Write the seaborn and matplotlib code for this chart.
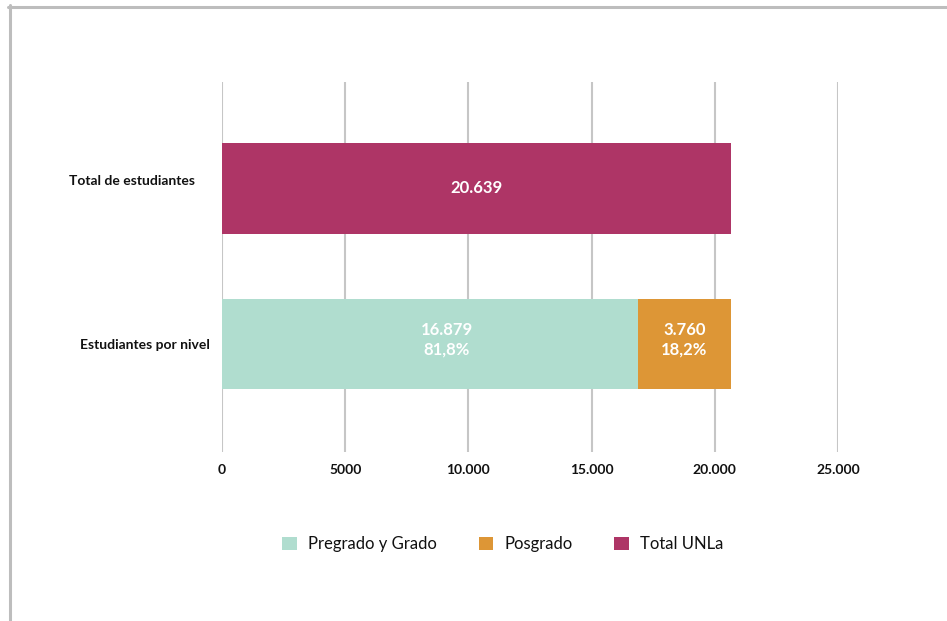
import matplotlib
matplotlib.use("Agg")
import matplotlib.pyplot as plt
import matplotlib.transforms as mtransforms
from matplotlib.lines import Line2D
from matplotlib.patches import Patch
import seaborn as sns

# data
categories = ["Total de estudiantes", "Estudiantes por nivel"]
series = ["Pregrado y Grado", "Posgrado", "Total UNLa"]
pregrado = 16879
posgrado = 3760
total_unla = 20639
pct_pregrado = "81,8%"
pct_posgrado = "18,2%"
xticks = [0, 5000, 10000, 15000, 20000, 25000]
xtick_labels = ["0", "5000", "10.000", "15.000", "20.000", "25.000"]

colors = {"Pregrado y Grado": "#B0DDCF", "Posgrado": "#DD9636", "Total UNLa": "#AE3566"}


def fmt(v):
    return f"{v:,}".replace(",", ".")


sns.set_theme(style="white")
plt.rcParams["font.family"] = ["Lato", "DejaVu Sans"]

fig = plt.figure(figsize=(9.47, 6.21), dpi=100)
ax = fig.add_axes([222 / 947, 1 - 452 / 621, 616 / 947, 370 / 621])

bw = 0.58
bar_kw = dict(order=categories, orient="h", width=bw, saturation=1, ax=ax, linewidth=0)
# total bar
sns.barplot(x=[total_unla], y=[categories[0]], color=colors["Total UNLa"], zorder=3, **bar_kw)
# stacked bar: cumulative posgrado first, pregrado drawn on top
sns.barplot(x=[pregrado + posgrado], y=[categories[1]], color=colors["Posgrado"], zorder=3, **bar_kw)
sns.barplot(x=[pregrado], y=[categories[1]], color=colors["Pregrado y Grado"], zorder=4, **bar_kw)

ax.set_xlim(0, 25000)
ax.set_ylim(1.695, -0.685)
ax.set_xticks(xticks)
ax.set_xticklabels(xtick_labels, fontsize=10, fontweight="bold", color="#111111")
ax.set_yticks(range(len(categories)))
ax.set_yticklabels(categories, fontsize=10, fontweight="bold", color="#111111")
ax.set_xlabel("")
ax.set_ylabel("")
ax.tick_params(axis="x", length=0, pad=9)
ax.tick_params(axis="y", length=0, pad=9)

# first label sits a little left and up in the reference
lab0 = ax.get_yticklabels()[0]
lab0.set_transform(lab0.get_transform() + mtransforms.ScaledTranslation(-0.15, 0.08, fig.dpi_scale_trans))

ax.grid(axis="x", color="#C6C6C6", linewidth=1.5, zorder=0)
ax.grid(axis="y", visible=False)
for s in ax.spines.values():
    s.set_visible(False)

# value labels
lbl = dict(color="white", fontsize=12, fontweight="bold", ha="center", va="center",
           linespacing=1.3, zorder=5)
ax.text(total_unla / 2, 0, fmt(total_unla), **lbl)
ax.annotate(f"{fmt(pregrado)}\n{pct_pregrado}", (pregrado / 2, 1), xytext=(12, 3),
            textcoords="offset points", **lbl)
ax.annotate(f"{fmt(posgrado)}\n{pct_posgrado}", (pregrado + posgrado / 2, 1), xytext=(0, 3),
            textcoords="offset points", **lbl)

handles = [Patch(facecolor=colors[s], edgecolor="none") for s in series]
fig.legend(handles, series, loc="center", bbox_to_anchor=(503 / 947, 1 - 544 / 621),
           ncol=3, frameon=False, fontsize=12, handlelength=0.85, handleheight=0.85,
           handletextpad=0.7, columnspacing=2.5, labelcolor="#111111")

# frame lines on top and left
fig.add_artist(Line2D([8 / 947, 1], [1 - 6.5 / 621, 1 - 6.5 / 621], transform=fig.transFigure,
                      color="#BDBDBD", linewidth=2.2))
fig.add_artist(Line2D([9.5 / 947, 9.5 / 947], [0, 1 - 5 / 621], transform=fig.transFigure,
                      color="#BDBDBD", linewidth=2.2))

fig.savefig("out.png", dpi=100)
